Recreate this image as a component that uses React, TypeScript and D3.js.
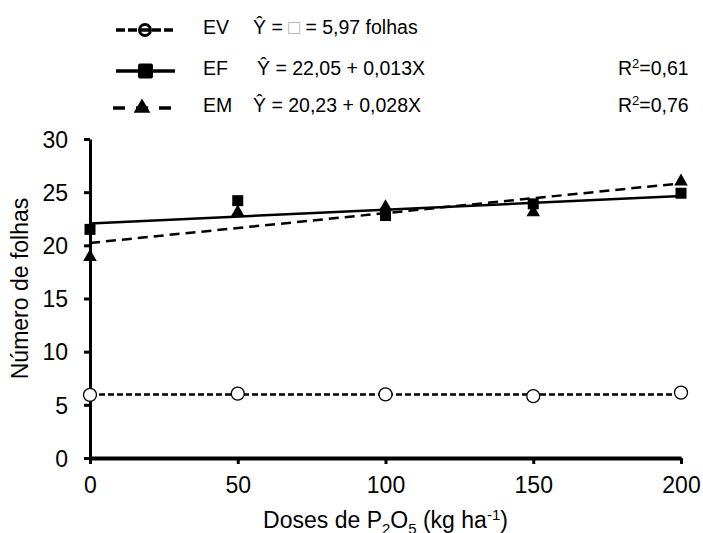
import React, { useEffect, useRef } from 'react';
import * as d3 from 'd3';

// doses of P2O5 (kg/ha)
const doses = [0, 50, 100, 150, 200];
// observed number of leaves per treatment
const evValues = [5.94, 6.05, 5.98, 5.82, 6.15];
const efValues = [21.5, 24.2, 22.8, 23.9, 24.9];
const emValues = [19.0, 23.2, 23.7, 23.2, 26.1];
// regression coefficients [intercept, slope]
const evFit = [5.97, 0];
const efFit = [22.05, 0.013];
const emFit = [20.23, 0.028];
const yTicks = [0, 5, 10, 15, 20, 25, 30];
const xTicks = [0, 50, 100, 150, 200];

const FONT = 'Liberation Sans, Arial, sans-serif';

const buildChart = (node: SVGSVGElement) => {
  const svg = d3.select(node);
  svg.selectAll('*').remove();

  const margin = { top: 139, right: 22, bottom: 75, left: 90 },
    width = 703,
    height = 533;

  const x = d3.scaleLinear().domain([0, 200]).range([margin.left, width - margin.right]);
  const y = d3.scaleLinear().domain([0, 30]).range([height - margin.bottom, margin.top]);

  // axes
  const xAxis = svg
    .append('g')
    .attr('transform', `translate(0,${y(0)})`)
    .call(d3.axisBottom(x).tickValues(xTicks).tickSize(6).tickSizeOuter(0).tickPadding(13));
  const yAxis = svg
    .append('g')
    .attr('transform', `translate(${x(0)},0)`)
    .call(d3.axisLeft(y).tickValues(yTicks).tickSize(6).tickSizeOuter(0).tickPadding(16));

  [xAxis, yAxis].forEach(a => {
    a.select('.domain').attr('stroke', '#000').attr('stroke-width', 3);
    a.selectAll('.tick line').attr('stroke', '#000').attr('stroke-width', 3);
    a.selectAll('.tick text')
      .attr('fill', '#000')
      .style('font-family', FONT)
      .style('font-size', '23px');
  });
  xAxis.select('.domain').attr('stroke-width', 4);
  yAxis.selectAll('.tick text').attr('dy', '0.36em');

  // axis titles
  svg
    .append('text')
    .attr('x', (x(0) + x(200)) / 2)
    .attr('y', 528)
    .attr('text-anchor', 'middle')
    .style('font-family', FONT)
    .style('font-size', '23px')
    .call(t => {
      t.append('tspan').text('Doses de P');
      t.append('tspan').attr('font-size', '15px').attr('dy', 6).text('2');
      t.append('tspan').attr('dy', -6).text('O');
      t.append('tspan').attr('font-size', '15px').attr('dy', 6).text('5');
      t.append('tspan').attr('dy', -6).text(' (kg ha');
      t.append('tspan').attr('font-size', '15px').attr('dy', -8).text('-1');
      t.append('tspan').attr('dy', 8).text(')');
    });

  svg
    .append('text')
    .attr('transform', `translate(28,${(y(0) + y(30)) / 2 - 10}) rotate(-90)`)
    .attr('text-anchor', 'middle')
    .style('font-family', FONT)
    .style('font-size', '23px')
    .text('Número de folhas');

  // regression lines
  const fitLine = (fit: number[], dash: string | null) => {
    const line = d3
      .line<number>()
      .x(d => x(d))
      .y(d => y(fit[0] + fit[1] * d));
    svg
      .append('path')
      .datum([0, 200])
      .attr('d', line)
      .attr('fill', 'none')
      .attr('stroke', '#000')
      .attr('stroke-width', 2.5)
      .attr('stroke-dasharray', dash);
  };
  fitLine(evFit, '6,3');
  fitLine(emFit, '10,6');
  fitLine(efFit, null);

  const tri = d3.symbol().type(d3.symbolTriangle).size(80);
  const triBig = d3.symbol().type(d3.symbolTriangle).size(120);

  // markers
  svg
    .append('g')
    .selectAll('path')
    .data(doses)
    .enter()
    .append('path')
    .attr('d', tri)
    .attr('transform', (d, i) => `translate(${x(d)},${y(emValues[i]) + 1})`)
    .attr('fill', '#000');

  svg
    .append('g')
    .selectAll('rect')
    .data(doses)
    .enter()
    .append('rect')
    .attr('x', d => x(d) - 5.5)
    .attr('y', (d, i) => y(efValues[i]) - 5.5)
    .attr('width', 11)
    .attr('height', 11)
    .attr('fill', '#000');

  svg
    .append('g')
    .selectAll('circle')
    .data(doses)
    .enter()
    .append('circle')
    .attr('cx', d => x(d))
    .attr('cy', (d, i) => y(evValues[i]))
    .attr('r', 6.5)
    .attr('fill', '#fff')
    .attr('stroke', '#000')
    .attr('stroke-width', 1.3);

  // legend
  const rows = [
    { y: 30, name: 'EV', eq: 'Ŷ = ', box: true, rest: ' = 5,97 folhas', r2: null, dash: '9,3', x1: 116 },
    { y: 71, name: 'EF', eq: 'Ŷ = 22,05 + 0,013X', box: false, rest: '', r2: '0,61', dash: null, x1: 116 },
    { y: 108, name: 'EM', eq: 'Ŷ = 20,23 + 0,028X', box: false, rest: '', r2: '0,76', dash: '12,11', x1: 113 }
  ];
  rows.forEach((r, i) => {
    const g = svg.append('g').attr('transform', `translate(0,${r.y})`);
    g.append('line')
      .attr('x1', r.x1)
      .attr('x2', i === 2 ? 172 : 175)
      .attr('stroke', '#000')
      .attr('stroke-width', 3.5)
      .attr('stroke-dasharray', r.dash);
    if (i === 0) {
      g.append('circle').attr('cx', 145).attr('r', 5.5).attr('fill', 'none').attr('stroke', '#000').attr('stroke-width', 3);
    } else if (i === 1) {
      g.append('rect').attr('x', 138).attr('y', -7.5).attr('width', 15).attr('height', 15).attr('rx', 2).attr('fill', '#000');
    } else {
      g.append('path').attr('d', triBig).attr('transform', 'translate(142,0)').attr('fill', '#000');
    }
    g.append('text')
      .attr('x', 203)
      .attr('y', -3)
      .attr('dy', '0.36em')
      .style('font-family', FONT)
      .style('font-size', '19.5px')
      .text(r.name);
    const t = g
      .append('text')
      .attr('x', i === 1 ? 257 : 253)
      .attr('y', -3)
      .attr('dy', '0.36em')
      .style('font-family', FONT)
      .style('font-size', '19.5px');
    t.append('tspan').text(r.eq);
    if (r.box) {
      t.append('tspan').attr('fill', '#aaa').text('□');
      t.append('tspan').text(r.rest);
    }
    if (r.r2) {
      const rt = g
        .append('text')
        .attr('x', 618)
        .attr('y', -3)
        .attr('dy', '0.36em')
        .style('font-family', FONT)
        .style('font-size', '19.5px');
      rt.append('tspan').text('R');
      rt.append('tspan').attr('font-size', '13px').attr('dy', -7).text('2');
      rt.append('tspan').attr('dy', 7).text('=' + r.r2);
    }
  });
};

const App = () => {
  const ref = useRef<SVGSVGElement>(null);
  useEffect(() => {
    document.body.style.margin = '0';
    if (ref.current) buildChart(ref.current);
  });
  return <svg ref={ref} width={703} height={533} style={{ display: 'block', background: '#fff' }} />;
};

export default App;
